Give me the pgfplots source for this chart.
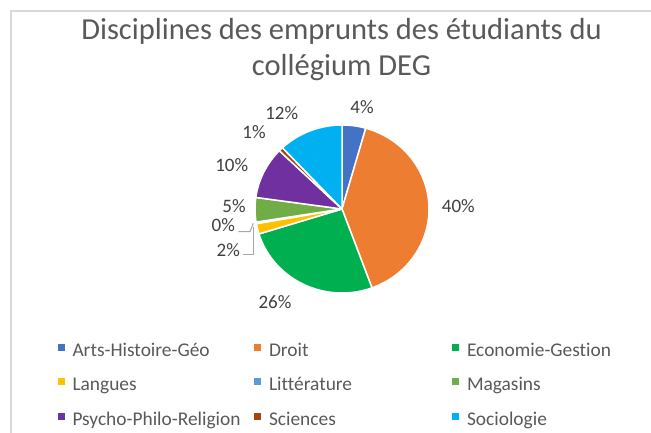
\documentclass[border=0pt]{standalone}
\usepackage{fontspec}
\setmainfont[Ligatures=NoCommon]{Carlito}
\usepackage{pgfplots}
\usepackage{pgfplotstable}
\pgfplotsset{compat=1.18}
\definecolor{c0}{HTML}{4472C4}
\definecolor{c1}{HTML}{ED7D31}
\definecolor{c2}{HTML}{00B050}
\definecolor{c3}{HTML}{FFC000}
\definecolor{c4}{HTML}{5B9BD5}
\definecolor{c5}{HTML}{70AD47}
\definecolor{c6}{HTML}{7030A0}
\definecolor{c7}{HTML}{9E480E}
\definecolor{c8}{HTML}{00B0F0}
\definecolor{titlegray}{HTML}{595959}
\definecolor{labelgray}{HTML}{404040}
\definecolor{framegray}{HTML}{D9D9D9}
\definecolor{leadergray}{HTML}{A6A6A6}
\expandafter\def\csname legW0\endcsname{189.5pt}
\expandafter\def\csname legW1\endcsname{191pt}
\expandafter\def\csname legW2\endcsname{160pt}

\pgfplotstableread{
idx label value lx ly
0 Arts-Histoire-Géo 4.4 362 325.3
1 Droit 40.0 458.3 225.7
2 Economie-Gestion 25.8 275 130.3
3 Langues 2.0 228.3 182
4 Littérature 0.3 223.3 207
5 Magasins 4.7 234 226.3
6 Psycho-Philo-Religion 10.0 231.7 267
7 Sciences 0.8 254 300.3
8 Sociologie 12.0 281.7 319
}\piedata

\begin{document}
\begin{tikzpicture}
\def\cum{0}
\pgfplotsforeachungrouped \i in {0,...,8}{%
  \pgfplotstablegetelem{\i}{value}\of\piedata
  \pgfmathsetmacro\s{90-3.6*\cum}%
  \pgfmathsetmacro\cum{\cum+\pgfplotsretval}%
  \pgfmathsetmacro\e{90-3.6*\cum}%
  \expandafter\xdef\csname sA\i\endcsname{\s}%
  \expandafter\xdef\csname eA\i\endcsname{\e}%
}
\begin{axis}[
  name=ax, width=651pt, height=432pt, scale only axis,
  xmin=0, xmax=651, ymin=0, ymax=432, hide axis, clip=false,
  legend columns=3,
  legend style={at={(0.08833,0.20833)}, anchor=north west, draw=none, fill=none,
    inner sep=0pt, outer sep=0pt, row sep=16.5pt, column sep=0pt,
    font=\fontsize{19.4}{23}\selectfont, text=titlegray,
    nodes={inner sep=0pt, text height=14pt, text depth=4pt}},
  legend image code/.code={\path[#1, draw=none] (0pt,0.5pt) rectangle (7pt,7.5pt);},
]
\draw[framegray, line width=1.5pt] (axis cs:11,-10) -- (axis cs:11,421) -- (axis cs:700,421);
\pgfplotsinvokeforeach{0,...,8}{%
  \pgfplotstablegetelem{#1}{label}\of\piedata \let\lbl\pgfplotsretval
  \pgfmathtruncatemacro\col{mod(#1,3)}%
  \edef\tmp{\noexpand\addplot[fill=c#1, draw=white, line width=1.5pt, line join=round,
     domain=\csname eA#1\endcsname:\csname sA#1\endcsname, samples=60]
     ({342+87*cos(x)},{223+84*sin(x)}) -- (axis cs:342,223) -- cycle;
   \noexpand\addlegendentry{\noexpand\makebox[\csname legW\col\endcsname][l]{\noexpand\hspace{8pt}\lbl}}}%
  \tmp
}
\pgfplotsinvokeforeach{0,...,8}{%
  \pgfplotstablegetelem{#1}{value}\of\piedata \pgfmathtruncatemacro\pct{round(\pgfplotsretval)}%
  \pgfplotstablegetelem{#1}{lx}\of\piedata \let\lx\pgfplotsretval
  \pgfplotstablegetelem{#1}{ly}\of\piedata \let\ly\pgfplotsretval
  \edef\tmp{\noexpand\node[inner sep=0pt, text=labelgray, font=\noexpand\fontsize{19}{23}\noexpand\selectfont] at (axis cs:\lx,\ly) {\pct\noexpand\%};}%
  \tmp
}
\draw[leadergray, line width=1pt] (axis cs:238.3,200.3) -- (axis cs:250,200.3) -- (axis cs:253.3,208.7);
\draw[leadergray, line width=1pt] (axis cs:243.3,178) -- (axis cs:253.3,178) -- (axis cs:253.3,205.3);
\node[anchor=base, inner sep=0pt, text=titlegray, font=\fontsize{30.5}{36}\selectfont] at (axis cs:341.5,392.7) {Disciplines des emprunts des étudiants du};
\node[anchor=base, inner sep=0pt, text=titlegray, font=\fontsize{30.5}{36}\selectfont] at (axis cs:341.5,356.7) {collégium DEG};
\end{axis}
\pgfresetboundingbox
\path (ax.south west) rectangle (ax.north east);
\end{tikzpicture}
\end{document}
